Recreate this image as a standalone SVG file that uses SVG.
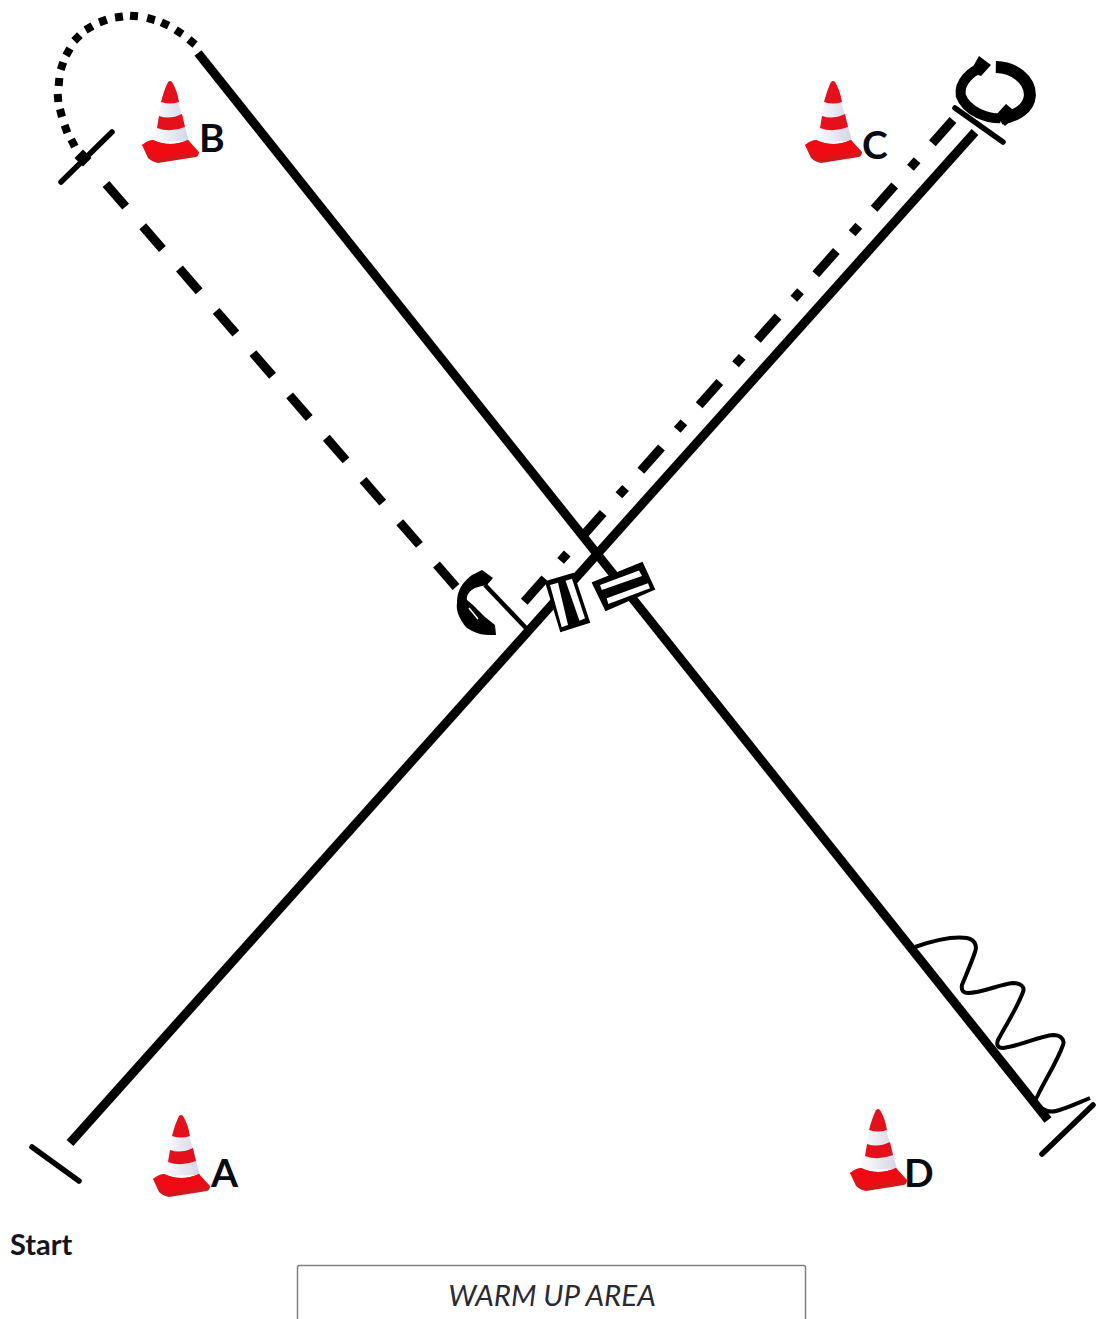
<svg xmlns="http://www.w3.org/2000/svg" width="1099" height="1319" viewBox="0 0 1099 1319">
<style>
.thick{fill:none;stroke:#000;stroke-width:9}
.tick{fill:none;stroke:#000;stroke-width:5.500;stroke-linecap:round}
.label{font-family:"Lato","Liberation Sans",sans-serif;font-size:39px;font-weight:700;fill:#0a0a14}
.dot{width:8px;height:8px;fill:#000}
.gate{fill:#000;stroke:#000;stroke-width:2}
</style>
<defs>
<linearGradient id="baseG" x1="0" y1="0" x2="0" y2="1"><stop offset="0" stop-color="#f0101a"/><stop offset="1" stop-color="#c81c1c"/></linearGradient>
<linearGradient id="bodyG" x1="0" y1="0" x2="1" y2="0"><stop offset="0" stop-color="#ffffff"/><stop offset="1" stop-color="#d4d4e6"/></linearGradient>
<g id="cone">
<path d="M-8,19 L8,19 L19,59 L-19,60Z" fill="url(#bodyG)"/>
<path d="M-28,63 Q-22,58 -17,58 Q0,66 18,58 L29,70 Q29,74 26,75 L-12,81 Q-18,80 -22,76Z" fill="url(#baseG)"/>
<path d="M-17,58 Q0,66 18,58 L27,70 Q5,72 -14,78 Q-20,70 -28,63Z" fill="#f00a14"/>
<path d="M-2,0 Q0,-2 2,0 Q7,8 9,20 Q0,23 -9,20 Q-6,8 -2,0Z" fill="#e4101c"/>
<path d="M-11,34 Q0,38 12,32 L15,45 Q0,51 -13,46Z" fill="#e4101c"/>
</g>
</defs>
<rect width="1099" height="1319" fill="#fff"/>
<g id="connectors">
<line class="thick" x1="70" y1="1143" x2="975" y2="132"/>
<line class="thick" x1="198" y1="53" x2="1048" y2="1120"/>
<line class="thick" x1="106" y1="184" x2="456" y2="587" stroke-dasharray="30 26"/>
<line class="thick" x1="953" y1="120" x2="524" y2="602" stroke-dasharray="31 23 10 23.700"/>
<line x1="485" y1="585" x2="526" y2="628" stroke="#000" stroke-width="4.500"/>
<g id="dotted-arc">
<rect class="dot" x="69" y="139" transform="rotate(63 73 143)"/>
<rect class="dot" x="62" y="125" transform="rotate(70 66 129)"/>
<rect class="dot" x="57" y="109" transform="rotate(75 61 113)"/>
<rect class="dot" x="54" y="94" transform="rotate(85 58 98)"/>
<rect class="dot" x="55" y="78" transform="rotate(95 59 82)"/>
<rect class="dot" x="58" y="62" transform="rotate(108 62 66)"/>
<rect class="dot" x="64" y="48" transform="rotate(120 68 52)"/>
<rect class="dot" x="73" y="34" transform="rotate(135 77 38)"/>
<rect class="dot" x="85" y="24" transform="rotate(150 89 28)"/>
<rect class="dot" x="99" y="17" transform="rotate(160 103 21)"/>
<rect class="dot" x="115" y="13" transform="rotate(172 119 17)"/>
<rect class="dot" x="130" y="12" transform="rotate(5 134 16)"/>
<rect class="dot" x="147" y="15" transform="rotate(15 151 19)"/>
<rect class="dot" x="161" y="20" transform="rotate(25 165 24)"/>
<rect class="dot" x="175" y="28" transform="rotate(33 179 32)"/>
<rect class="dot" x="188" y="38" transform="rotate(40 192 42)"/>
</g>
<path d="M915,947 C932,941 952,936 967,938 C976,940 977,947 975,952 C971,964 966,975 962,985 C961,990 963,993 968,993 C982,993 1000,984 1013,983 C1021,983 1025,987 1023,992 C1017,1008 1006,1025 998,1040 C996,1045 998,1048 1003,1048 C1020,1046 1040,1036 1053,1035 C1061,1035 1065,1040 1063,1045 C1057,1062 1045,1080 1038,1095 C1034,1101 1036,1106 1041,1108 C1047,1112 1052,1112 1056,1111 C1068,1108 1080,1102 1090,1098" fill="none" stroke="#000" stroke-width="4"/>
</g>
<g id="tick-start"><line class="tick" x1="32" y1="1147" x2="79" y2="1181"/></g>
<g id="tick-b"><line class="tick" x1="61" y1="182" x2="112" y2="132"/><rect x="77" y="152" width="12" height="12" transform="rotate(-45 83 158)"/></g>
<g id="tick-c"><line class="tick" x1="955" y1="108" x2="1003" y2="142"/></g>
<g id="tick-d"><line class="tick" x1="1042" y1="1154" x2="1093" y2="1105"/></g>
<g id="cone-a"><use href="#cone" x="181" y="1116"/><text class="label" x="211" y="1187">A</text></g>
<g id="cone-b"><use href="#cone" x="170" y="82"/><text class="label" x="199" y="152">B</text></g>
<g id="cone-c"><use href="#cone" x="833" y="82"/><text class="label" x="862" y="159">C</text></g>
<g id="cone-d"><use href="#cone" x="878" y="1110"/><text class="label" x="904" y="1187">D</text></g>
<g id="turn-left">
<path d="M482,570 L493,578 L487,585 C481,586 478,587 475,588 C469,591 466,596 467,600 L473,605 L485,617 L495,625 L496,635 C488,635 482,635 477,633 C469,630 465,627 463,623 C458,616 456,609 457,603 C457,595 459,590 462,585 C465,581 468,578 472,575Z"/>
<path d="M469,608 L478,619" stroke="#fff" stroke-width="1.500" fill="none"/>
</g>
<g id="turn-full">
<g fill="none" stroke="#000" transform="rotate(4 996 93)">
<path d="M994,67 C1012,66 1029,77 1030,93 C1030,106 1018,115 1003,118" stroke-width="12"/>
<path d="M1002,118 C990,119 968,114 961,98 C958,84 970,73 981,68" stroke-width="10"/>
</g>
<path d="M979,56 L991,65 L981,76 L970,72Z"/>
<path d="M1006,104 L995,116 L1005,126 L1018,114Z"/>
</g>
<g id="gate-a">
<path class="gate" d="M546,582 L573,574 L589,622 L561,631Z"/>
<path d="M550,585 L558,582.700 L568,625 L561.700,627.300Z M565.500,580.700 L572,578.700 L585,618.300 L579.500,620.700Z" fill="#fff"/>
</g>
<g id="gate-b">
<path class="gate" d="M593,583 L642,563 L654,589 L606,610Z"/>
<path d="M600,585 L639,570.500 L642,576 L601.700,590Z M606.700,598.300 L648,583.300 L650,588.300 L608.300,604Z" fill="#fff"/>
</g>
<g id="start"><text x="10" y="1255" font-family="Lato,'Liberation Sans',sans-serif" font-size="29" font-weight="700" fill="#14141e">Start</text></g>
<g id="warm-up-area">
<rect x="297.500" y="1265.500" width="508" height="80" rx="2" fill="#fff" stroke="#808080" stroke-width="1.500"/>
<text x="552" y="1306" text-anchor="middle" font-family="Lato,'Liberation Sans',sans-serif" font-size="29.500" font-style="italic" font-weight="400" fill="#2a2a35">WARM UP AREA</text>
</g>
</svg>
